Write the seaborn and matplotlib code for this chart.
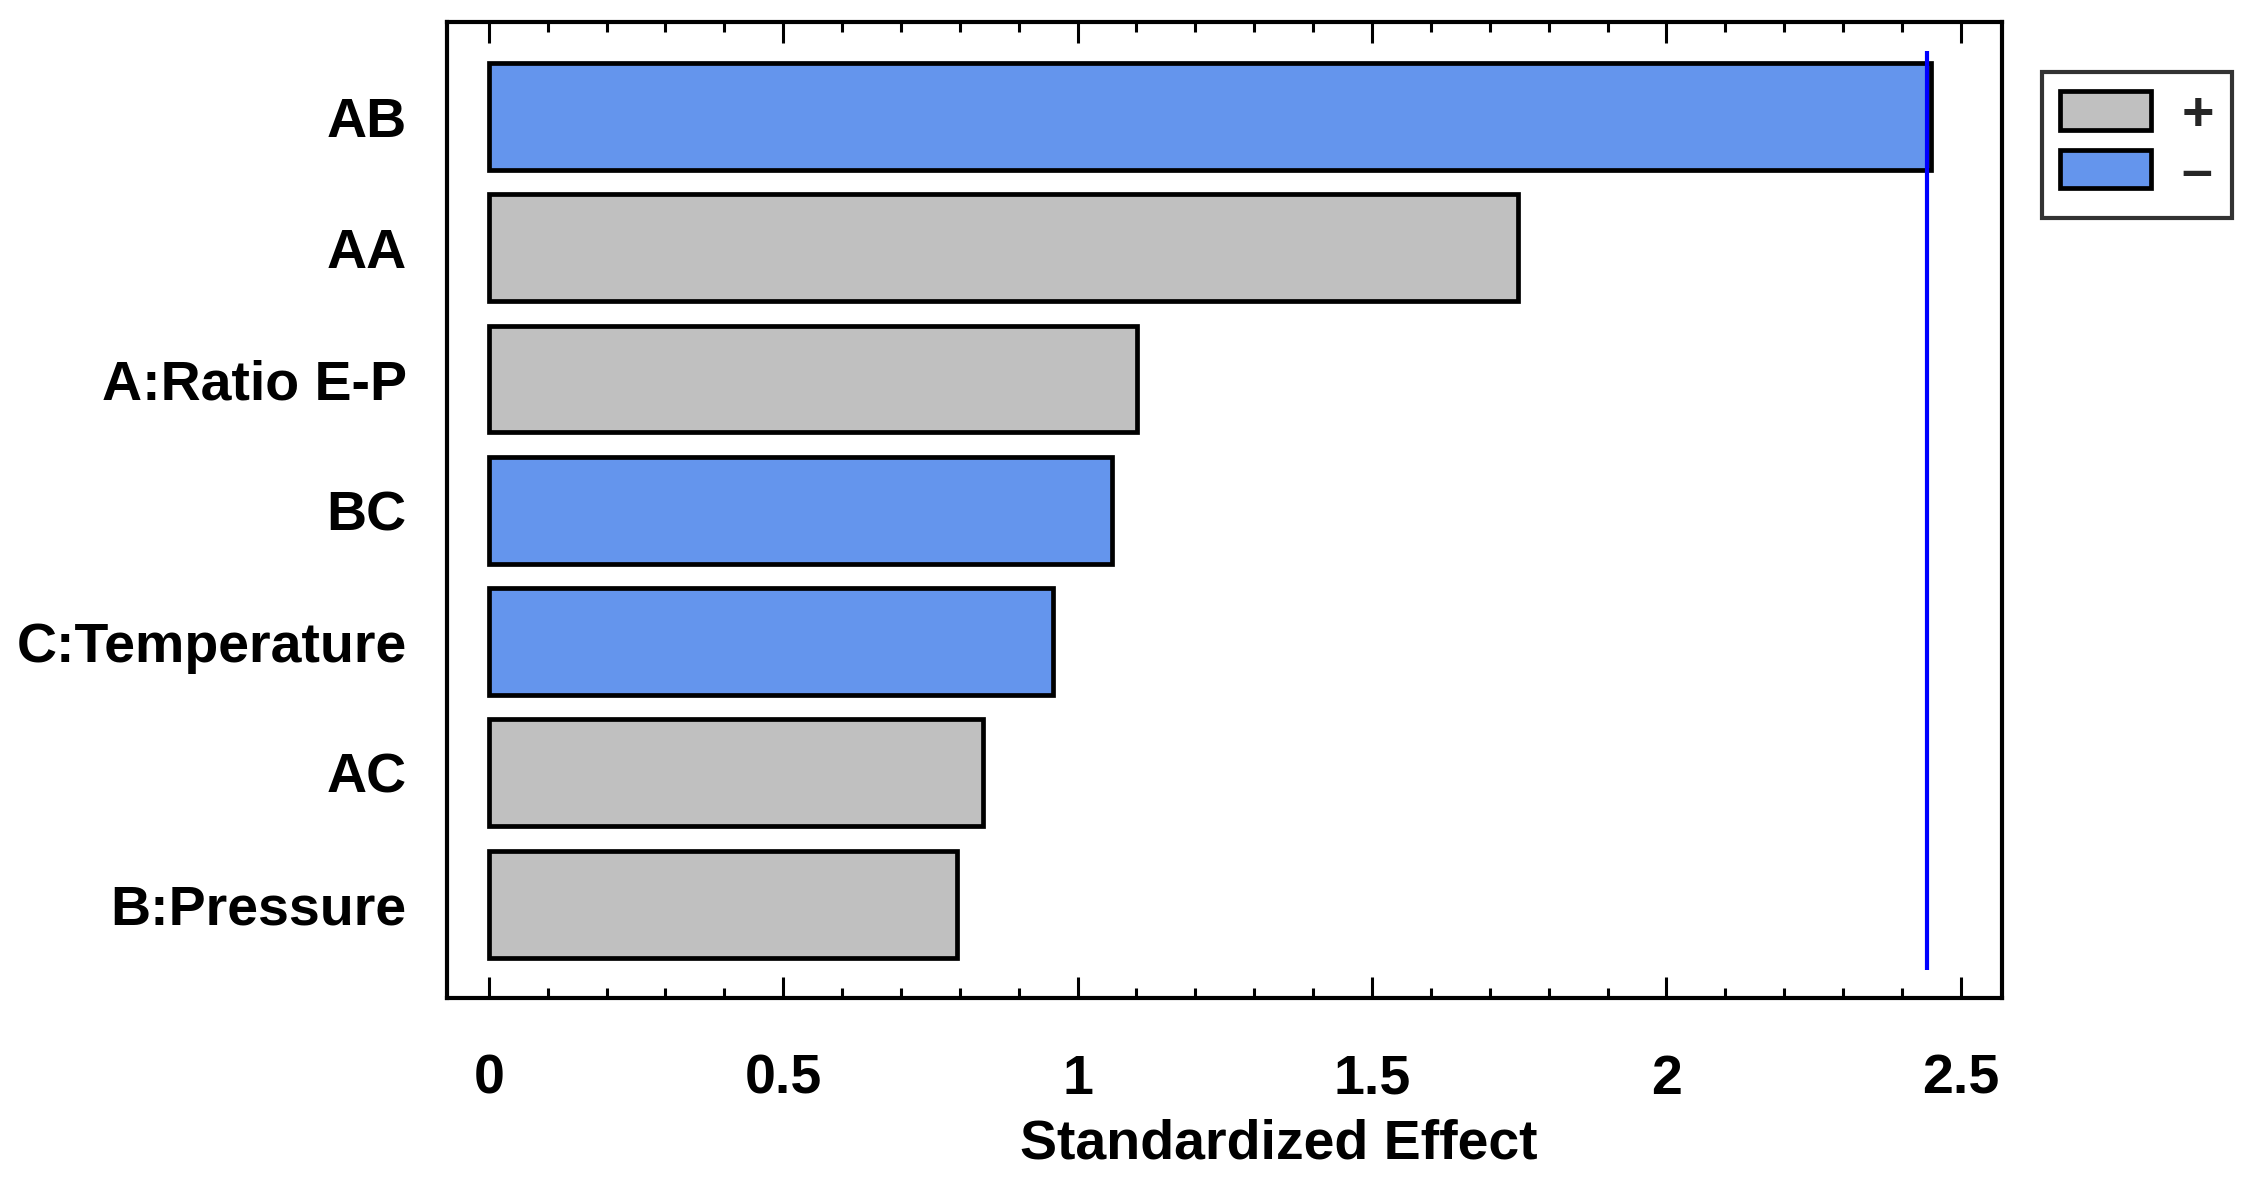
import matplotlib
matplotlib.use("Agg")
import matplotlib.pyplot as plt
from matplotlib.ticker import MultipleLocator, FuncFormatter
import seaborn as sns
import pandas as pd

terms = ["AB", "AA", "A:Ratio E-P", "BC", "C:Temperature", "AC", "B:Pressure"]
effects = [2.449, 1.748, 1.101, 1.058, 0.958, 0.840, 0.796]
signs = ["–", "+", "+", "–", "–", "+", "+"]
sign_order = ["+", "–"]
sign_colors = ["#C0C0C0", "#6495ED"]
critical_value = 2.443
x_label = "Standardized Effect"

sns.set_theme(style="white")
plt.rcParams["font.family"] = ["Liberation Sans", "DejaVu Sans"]
plt.rcParams["font.weight"] = "bold"

df = pd.DataFrame({"term": terms, "effect": effects, "sign": signs})

W, H = 2247, 1196
fig = plt.figure(figsize=(W / 100, H / 100), dpi=100)
ax = fig.add_axes([447 / W, 1 - 998 / H, (2002 - 447) / W, (998 - 22) / H])

sns.barplot(data=df, x="effect", y="term", hue="sign", hue_order=sign_order,
            palette=dict(zip(sign_order, sign_colors)), dodge=False, width=0.815,
            edgecolor="black", linewidth=3.4, orient="h", order=terms, ax=ax,
            saturation=1)

ax.vlines(critical_value, -0.5, 6.5, color="#0000FF", lw=3.0, zorder=10)

ax.set_xlim(-0.071, 2.57)
ax.set_ylim(6.716, -0.72)

ax.xaxis.set_major_locator(MultipleLocator(0.5))
ax.xaxis.set_minor_locator(MultipleLocator(0.1))
ax.xaxis.set_major_formatter(FuncFormatter(lambda v, p: f"{v:g}"))
ax.tick_params(axis="x", which="major", direction="in", length=15, width=2.2,
               top=True, bottom=True, labelsize=40, pad=40, color="black")
ax.tick_params(axis="x", which="minor", direction="in", length=7.5, width=2.2,
               top=True, bottom=True, color="black")
ax.tick_params(axis="y", which="both", length=0, labelsize=40, pad=29)
for lab in ax.get_xticklabels() + ax.get_yticklabels():
    lab.set_fontweight("bold")
    lab.set_color("black")

ax.set_ylabel("")
ax.set_xlabel(x_label, fontsize=40, fontweight="bold", color="black")
ax.xaxis.set_label_coords(0.535, -0.123)

for s in ax.spines.values():
    s.set_visible(True)
    s.set_linewidth(3.0)
    s.set_color("black")

handles, labels = ax.get_legend_handles_labels()
ax.get_legend().remove()
leg = fig.legend(handles, labels, loc="upper left",
                 bbox_to_anchor=(2042 / W, 1 - 72 / H),
                 prop={"family": "Liberation Sans", "weight": "bold", "size": 40},
                 handlelength=1.64, handleheight=0.7, handletextpad=0.55,
                 labelspacing=0.12, borderpad=0.32, borderaxespad=0,
                 frameon=True, fancybox=False, edgecolor="black")
leg.get_frame().set_linewidth(3.0)
for p in leg.get_patches():
    p.set_edgecolor("black")
    p.set_linewidth(3.4)

fig.savefig("out.png", dpi=100, facecolor="white")
